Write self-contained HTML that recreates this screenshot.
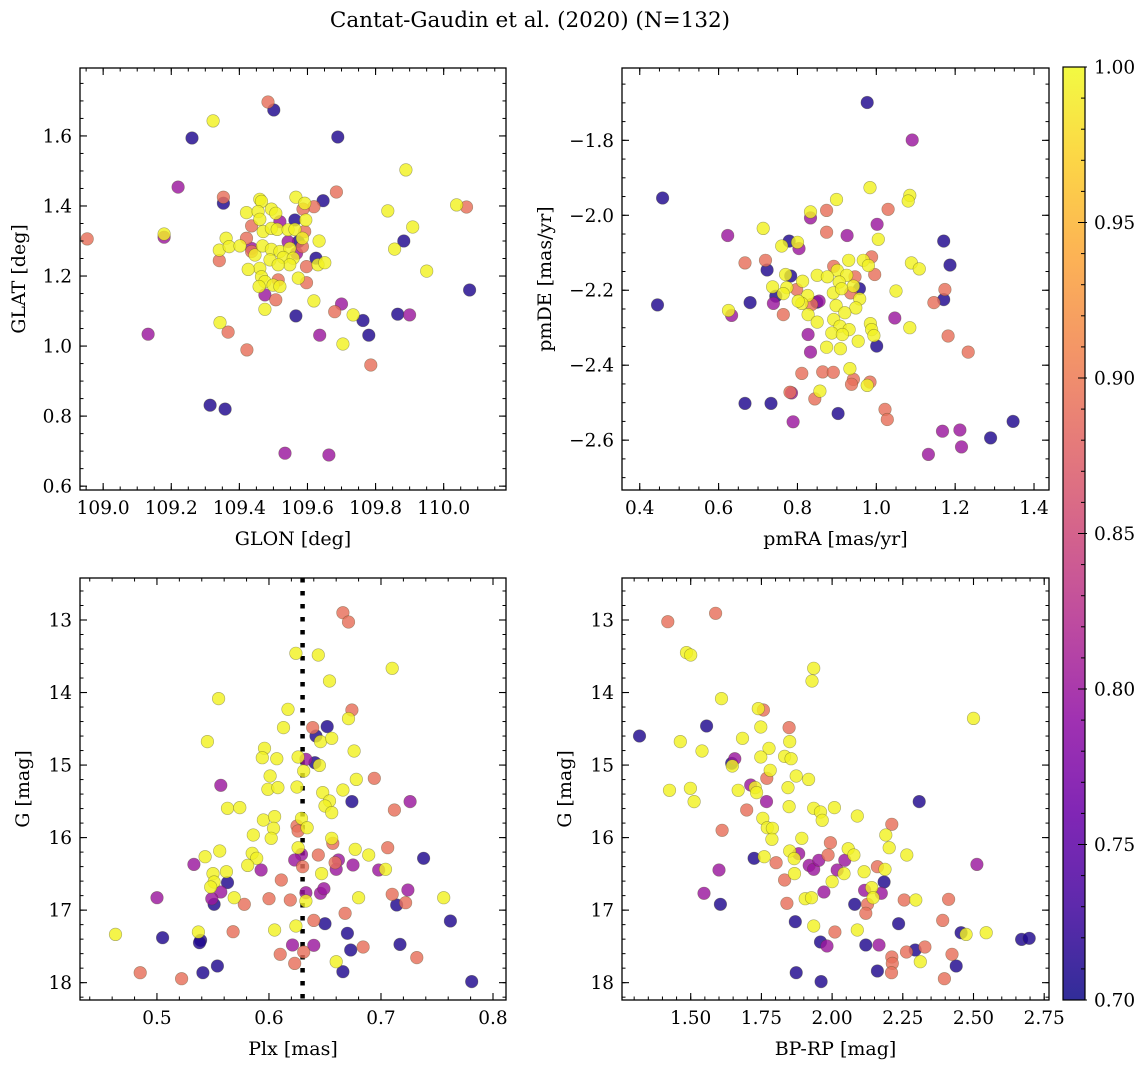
<!DOCTYPE html>
<html><head><meta charset="utf-8"><style>
html,body{margin:0;padding:0;background:#fff;}
svg{display:block;font-family:"DejaVu Serif","Liberation Serif",serif;}
</style></head><body>
<svg id="fig" width="1148" height="1067" viewBox="0 0 1148 1067" xmlns="http://www.w3.org/2000/svg">
<text x="530" y="27" text-anchor="middle" font-size="21.5" fill="#000">Cantat-Gaudin et al. (2020) (N=132)</text>
</svg>
<script>
// ---------- Panel 1: GLON vs GLAT ----------
const glonVals=[109.460,109.465,109.421,109.455,109.460,109.494,109.507,109.566,109.592,109.595,109.470,109.494,109.511,109.543,109.563,109.585,109.634,109.361,109.341,109.370,109.402,109.446,109.468,109.494,109.519,109.548,109.529,109.558,109.490,109.460,109.426,109.465,109.475,109.458,109.499,109.519,109.573,109.631,109.651,109.619,109.475,109.343,109.734,109.548,109.514,
109.179,109.323,109.704,109.836,109.856,109.909,109.889,109.950,110.038,
109.353,109.685,109.619,109.587,109.436,109.592,109.421,109.436,109.585,109.341,109.597,109.597,109.514,109.507,109.680,108.953,109.484,109.367,109.422,109.786,110.067,
109.353,109.646,109.563,109.625,109.566,109.763,109.573,109.261,109.501,109.689,109.314,109.358,109.780,109.865,109.883,110.076,
109.519,109.543,109.436,109.475,109.700,109.568,109.179,109.220,109.132,109.534,109.663,109.636,109.900];
const glatVals=[1.419,1.413,1.381,1.384,1.362,1.391,1.379,1.425,1.408,1.360,1.327,1.336,1.333,1.332,1.333,1.308,1.300,1.308,1.274,1.284,1.286,1.260,1.286,1.276,1.270,1.279,1.253,1.251,1.246,1.222,1.219,1.198,1.184,1.170,1.174,1.170,1.194,1.232,1.238,1.129,1.105,1.067,1.089,1.232,1.232,
1.320,1.643,1.006,1.386,1.277,1.340,1.503,1.214,1.403,
1.425,1.440,1.398,1.391,1.343,1.327,1.308,1.270,1.284,1.244,1.227,1.181,1.189,1.132,1.098,1.306,1.697,1.040,0.989,0.946,1.397,
1.408,1.415,1.360,1.251,1.086,1.073,1.298,1.594,1.674,1.597,0.831,0.820,1.031,1.091,1.300,1.160,
1.355,1.298,1.279,1.146,1.120,1.265,1.311,1.454,1.034,0.694,0.689,1.031,1.089];
const probA=[].concat(Array(54).fill(0.995),Array(21).fill(0.89),Array(16).fill(0.71),Array(13).fill(0.80));

// ---------- Panel 2: pmRA vs pmDE ----------
const pmraVals=[0.977,1.091,0.458,0.984,0.899,1.085,1.081,1.030,0.874,0.833,0.833,1.002,0.713,0.874,0.926,0.623,1.005,1.171,0.779,0.760,0.800,0.804,0.988,0.967,0.980,0.719,0.667,0.930,1.089,1.109,1.187,0.723,0.892,0.996,0.901,0.850,0.876,0.925,0.946,0.770,0.783,0.813,0.906,0.942,0.957,1.050,0.737,0.773,0.764,0.745,0.798,1.174,1.171,1.146,0.891,0.912,0.935,0.958,0.826,0.855,0.849,0.836,0.811,0.802,0.680,0.739,0.445,0.625,0.633,0.764,0.898,0.948,0.827,0.850,0.892,0.920,0.908,0.931,0.985,0.988,0.994,1.047,1.085,1.182,0.827,0.887,0.914,0.954,1.001,0.874,0.909,0.833,1.233,0.933,0.811,0.864,0.891,0.942,0.937,0.984,0.977,0.781,0.785,0.857,0.844,0.667,0.733,0.903,0.789,1.022,1.028,1.168,1.212,1.216,1.132,1.290,1.347];
const pmdeVals=[-1.699,-1.799,-1.954,-1.926,-1.958,-1.947,-1.962,-1.984,-1.987,-1.991,-2.007,-2.024,-2.035,-2.045,-2.054,-2.054,-2.064,-2.069,-2.069,-2.082,-2.072,-2.089,-2.111,-2.120,-2.134,-2.120,-2.127,-2.120,-2.127,-2.143,-2.133,-2.146,-2.136,-2.158,-2.147,-2.160,-2.164,-2.160,-2.164,-2.158,-2.162,-2.176,-2.178,-2.189,-2.196,-2.202,-2.191,-2.193,-2.209,-2.216,-2.198,-2.198,-2.225,-2.233,-2.207,-2.196,-2.207,-2.223,-2.214,-2.229,-2.232,-2.238,-2.235,-2.229,-2.233,-2.235,-2.239,-2.254,-2.267,-2.265,-2.241,-2.247,-2.265,-2.285,-2.278,-2.260,-2.296,-2.305,-2.289,-2.305,-2.321,-2.274,-2.300,-2.322,-2.318,-2.314,-2.318,-2.336,-2.349,-2.352,-2.356,-2.365,-2.365,-2.409,-2.422,-2.418,-2.419,-2.438,-2.451,-2.445,-2.454,-2.472,-2.474,-2.469,-2.490,-2.502,-2.502,-2.529,-2.551,-2.518,-2.545,-2.576,-2.573,-2.618,-2.638,-2.594,-2.550];
const probB=[0.71,0.80,0.71,0.995,0.995,0.995,0.995,0.89,0.89,0.995,0.80,0.80,0.995,0.89,0.80,0.80,0.995,0.71,0.71,0.995,0.995,0.80,0.89,0.995,0.995,0.89,0.89,0.995,0.995,0.995,0.71,0.71,0.89,0.89,0.995,0.995,0.995,0.995,0.89,0.995,0.71,0.995,0.995,0.995,0.71,0.995,0.995,0.995,0.995,0.71,0.89,0.89,0.71,0.89,0.995,0.995,0.89,0.995,0.995,0.80,0.71,0.89,0.995,0.995,0.71,0.80,0.71,0.995,0.80,0.89,0.995,0.995,0.995,0.995,0.995,0.995,0.995,0.995,0.995,0.995,0.995,0.80,0.995,0.89,0.80,0.995,0.995,0.995,0.71,0.995,0.995,0.80,0.89,0.995,0.89,0.89,0.89,0.89,0.89,0.89,0.995,0.89,0.80,0.995,0.89,0.71,0.71,0.71,0.80,0.89,0.89,0.80,0.80,0.80,0.80,0.71,0.71];

// ---------- Panel 3: Plx vs G ----------
const plxVals=[0.666,0.671,0.624,0.644,0.710,0.654,0.555,0.617,0.674,0.671,0.652,0.639,0.642,0.613,0.646,0.656,0.545,0.676,0.596,0.594,0.607,0.626,0.633,0.641,0.645,0.631,0.601,0.694,0.678,0.557,0.599,0.608,0.625,0.666,0.648,0.674,0.726,0.654,0.650,0.656,0.712,0.563,0.574,0.595,0.605,0.604,0.602,0.586,0.629,0.625,0.626,0.634,0.656,0.657,0.677,0.689,0.706,0.738,0.626,0.629,0.623,0.630,0.644,0.662,0.659,0.660,0.675,0.647,0.698,0.704,0.543,0.556,0.533,0.585,0.589,0.581,0.593,0.562,0.550,0.551,0.563,0.548,0.557,0.549,0.551,0.569,0.578,0.611,0.600,0.619,0.633,0.633,0.646,0.649,0.680,0.710,0.724,0.714,0.722,0.756,0.500,0.668,0.762,0.640,0.650,0.605,0.624,0.670,0.568,0.537,0.539,0.538,0.505,0.463,0.621,0.640,0.631,0.673,0.684,0.717,0.732,0.610,0.623,0.660,0.666,0.554,0.541,0.485,0.522,0.781];
const gPlxVals=[12.899,13.027,13.459,13.482,13.666,13.841,14.084,14.231,14.241,14.360,14.470,14.484,14.599,14.484,14.677,14.631,14.677,14.806,14.769,14.898,14.912,14.889,14.921,14.967,15.004,15.082,15.151,15.183,15.197,15.279,15.334,15.311,15.302,15.344,15.380,15.504,15.504,15.495,15.564,15.656,15.619,15.596,15.587,15.757,15.711,15.872,16.010,15.964,15.734,15.840,15.909,15.863,16.010,16.079,16.162,16.240,16.139,16.286,16.139,16.231,16.309,16.401,16.240,16.309,16.346,16.437,16.378,16.497,16.447,16.437,16.263,16.185,16.369,16.217,16.286,16.383,16.447,16.470,16.497,16.612,16.621,16.681,16.750,16.842,16.920,16.828,16.920,16.585,16.842,16.860,16.759,16.874,16.768,16.704,16.828,16.782,16.722,16.929,16.897,16.828,16.828,17.044,17.150,17.141,17.187,17.274,17.219,17.320,17.297,17.302,17.416,17.449,17.380,17.334,17.481,17.485,17.577,17.550,17.508,17.472,17.655,17.609,17.734,17.711,17.849,17.770,17.862,17.862,17.945,17.986];
const probC=[0.89,0.89,0.995,0.995,0.995,0.995,0.995,0.995,0.89,0.995,0.71,0.89,0.71,0.995,0.995,0.995,0.995,0.995,0.995,0.995,0.995,0.995,0.80,0.71,0.995,0.995,0.995,0.89,0.995,0.80,0.995,0.995,0.995,0.995,0.995,0.71,0.80,0.995,0.995,0.995,0.89,0.995,0.995,0.995,0.995,0.995,0.995,0.995,0.995,0.89,0.89,0.995,0.995,0.89,0.995,0.995,0.89,0.71,0.995,0.80,0.80,0.89,0.89,0.80,0.89,0.80,0.80,0.995,0.80,0.995,0.995,0.995,0.80,0.995,0.995,0.995,0.80,0.995,0.995,0.995,0.71,0.995,0.80,0.80,0.71,0.995,0.89,0.89,0.89,0.89,0.80,0.995,0.80,0.80,0.995,0.89,0.80,0.71,0.89,0.995,0.80,0.89,0.71,0.89,0.71,0.995,0.995,0.71,0.89,0.995,0.71,0.71,0.71,0.995,0.80,0.80,0.89,0.71,0.89,0.71,0.89,0.89,0.89,0.995,0.71,0.71,0.71,0.89,0.89,0.71];

// ---------- Panel 4: BP-RP vs G ----------
const bprpVals=[1.419,1.588,1.485,1.500,1.935,1.929,1.609,1.739,1.757,2.500,1.556,1.748,1.848,1.319,1.463,1.683,1.850,1.540,1.777,1.748,1.832,1.855,1.656,1.645,1.647,1.781,1.769,1.873,1.917,1.425,1.499,1.512,1.668,1.712,1.728,1.733,1.844,1.768,1.848,1.698,1.935,1.959,1.965,2.008,2.089,1.611,1.755,1.771,1.789,1.787,1.893,1.994,2.211,2.190,2.202,2.264,1.724,1.760,1.802,1.850,1.866,1.882,1.867,1.919,1.935,1.953,1.986,2.057,2.077,2.045,2.018,2.042,2.000,1.832,1.600,1.547,1.605,2.113,2.160,2.187,2.184,2.115,2.174,2.140,2.145,2.125,2.119,2.080,1.905,1.927,1.840,1.971,2.255,2.296,2.412,2.512,2.308,1.870,1.935,2.010,2.089,2.235,2.391,2.456,2.474,2.545,2.670,2.697,1.959,1.982,2.119,2.166,2.211,2.213,2.263,2.294,2.328,2.424,2.312,2.439,2.160,2.210,1.873,1.961,2.397];
const gColVals=[13.023,12.908,13.450,13.482,13.666,13.841,14.084,14.222,14.241,14.356,14.461,14.475,14.484,14.599,14.677,14.631,14.677,14.806,14.769,14.889,14.880,14.912,14.912,14.976,15.013,15.072,15.183,15.151,15.197,15.348,15.320,15.504,15.348,15.275,15.311,15.380,15.311,15.504,15.573,15.619,15.596,15.647,15.762,15.587,15.702,15.900,15.734,15.863,15.872,16.024,16.010,16.070,15.817,15.964,16.139,16.240,16.286,16.263,16.346,16.185,16.290,16.222,16.497,16.383,16.437,16.313,16.240,16.153,16.240,16.313,16.447,16.497,16.607,16.585,16.447,16.768,16.920,16.470,16.401,16.437,16.612,16.727,16.768,16.690,16.828,16.920,17.044,16.920,16.842,16.828,16.906,16.750,16.860,16.860,16.851,16.369,15.504,17.159,17.219,17.302,17.274,17.187,17.141,17.311,17.334,17.311,17.403,17.389,17.439,17.494,17.481,17.481,17.646,17.734,17.577,17.550,17.508,17.609,17.711,17.770,17.839,17.862,17.862,17.986,17.945];
const probD=[0.89,0.89,0.995,0.995,0.995,0.995,0.995,0.995,0.89,0.995,0.71,0.995,0.89,0.71,0.995,0.995,0.995,0.995,0.995,0.995,0.995,0.995,0.80,0.71,0.995,0.995,0.89,0.995,0.995,0.995,0.995,0.995,0.995,0.80,0.995,0.995,0.995,0.80,0.995,0.89,0.995,0.995,0.995,0.995,0.995,0.89,0.995,0.995,0.995,0.995,0.995,0.89,0.89,0.995,0.995,0.995,0.71,0.995,0.89,0.995,0.995,0.80,0.995,0.80,0.80,0.80,0.89,0.995,0.995,0.80,0.80,0.995,0.995,0.89,0.80,0.80,0.71,0.995,0.89,0.995,0.71,0.80,0.80,0.995,0.995,0.89,0.89,0.71,0.995,0.995,0.89,0.80,0.89,0.995,0.89,0.80,0.71,0.71,0.995,0.89,0.995,0.71,0.89,0.71,0.995,0.995,0.71,0.71,0.71,0.80,0.71,0.80,0.89,0.89,0.89,0.71,0.89,0.89,0.995,0.71,0.71,0.89,0.71,0.71,0.89];

const plxRef=[0.630];
const cbTicks=[0.70,0.75,0.80,0.85,0.90,0.95,1.00];

const NS="http://www.w3.org/2000/svg";
const svg=document.getElementById('fig');
function mk(tag,attrs,parent){const e=document.createElementNS(NS,tag);for(const k in attrs)e.setAttribute(k,attrs[k]);(parent||svg).appendChild(e);return e;}

const plasmaStops=["#0d0887","#41049d","#6a00a8","#8f0da4","#b12a90","#cc4778","#e16462","#f2844b","#fca636","#fcce25","#f0f921"];
function hex(h){return [parseInt(h.slice(1,3),16),parseInt(h.slice(3,5),16),parseInt(h.slice(5,7),16)];}
function plasma(t){t=Math.max(0,Math.min(1,t));const f=t*10,i=Math.min(9,Math.floor(f)),u=f-i;const a=hex(plasmaStops[i]),b=hex(plasmaStops[i+1]);return 'rgb('+a.map((v,k)=>Math.round(v+(b[k]-v)*u)).join(',')+')';}
const pMin=0.70,pMax=1.00;
const TICK_FS=18.5, LABEL_FS=19;

function fmt(v,d){const s=Math.abs(v).toFixed(d);return (v<-1e-9?'\u2212':'')+s;}

function panel(c){
  const g=mk('g',{});
  
  
  const sx=v=>c.x0+(v-c.xr[0])/(c.xr[1]-c.xr[0])*(c.x1-c.x0);
  const sy=c.invert?(v=>c.y0+(v-c.yr[0])/(c.yr[1]-c.yr[0])*(c.y1-c.y0)):(v=>c.y1-(v-c.yr[0])/(c.yr[1]-c.yr[0])*(c.y1-c.y0));
  const clip='clip-'+c.name;
  const cp=mk('clipPath',{id:clip},g);mk('rect',{x:c.x0,y:c.y0,width:c.x1-c.x0,height:c.y1-c.y0},cp);
  const pts=mk('g',{'clip-path':'url(#'+clip+')'},g);
  
  
  if(c.vline){
    const l=mk('line',{x1:sx(c.vline),x2:sx(c.vline),y1:c.y0,y2:c.y1,stroke:'#000','stroke-width':4.5,'stroke-dasharray':'4.5,8.5'},pts);
    
    
  }
  const idx=c.xs.map((_,i)=>i).sort((a,b)=>c.ps[a]-c.ps[b]);
  idx.forEach(i=>{
    const t=(c.ps[i]-pMin)/(pMax-pMin);
    const ci=mk('circle',{cx:sx(c.xs[i]).toFixed(1),cy:sy(c.ys[i]).toFixed(1),r:6.3,fill:plasma(t),'fill-opacity':0.82,stroke:'rgba(70,70,30,0.45)','stroke-width':0.6},pts);
    
    
  });
  mk('rect',{x:c.x0,y:c.y0,width:c.x1-c.x0,height:c.y1-c.y0,fill:'none',stroke:'#000','stroke-width':1.3},g);
  function ticks(r,step){const out=[];let v=Math.ceil(r[0]/step-1e-9)*step;for(;v<=r[1]+1e-9;v+=step)out.push(+v.toFixed(6));return out;}
  ticks(c.xr,c.xminor).forEach(v=>{const x=sx(v);mk('line',{x1:x,x2:x,y1:c.y1,y2:c.y1-3.5,stroke:'#000','stroke-width':1},g);mk('line',{x1:x,x2:x,y1:c.y0,y2:c.y0+3.5,stroke:'#000','stroke-width':1},g);});
  ticks(c.yr,c.yminor).forEach(v=>{const y=sy(v);mk('line',{x1:c.x0,x2:c.x0+3.5,y1:y,y2:y,stroke:'#000','stroke-width':1},g);mk('line',{x1:c.x1,x2:c.x1-3.5,y1:y,y2:y,stroke:'#000','stroke-width':1},g);});
  ticks(c.xr,c.xmajor).forEach(v=>{const x=sx(v);mk('line',{x1:x,x2:x,y1:c.y1,y2:c.y1-7,stroke:'#000','stroke-width':1.1},g);mk('line',{x1:x,x2:x,y1:c.y0,y2:c.y0+7,stroke:'#000','stroke-width':1.1},g);
    const t=mk('text',{x:x,y:c.y1+24,'text-anchor':'middle','font-size':TICK_FS},g);t.textContent=fmt(v,c.xd);
    
    });
  ticks(c.yr,c.ymajor).forEach(v=>{const y=sy(v);mk('line',{x1:c.x0,x2:c.x0+7,y1:y,y2:y,stroke:'#000','stroke-width':1.1},g);mk('line',{x1:c.x1,x2:c.x1-7,y1:y,y2:y,stroke:'#000','stroke-width':1.1},g);
    const t=mk('text',{x:c.x0-8,y:y+6.5,'text-anchor':'end','font-size':TICK_FS},g);t.textContent=fmt(v,c.yd);
    
    });
  const xl=mk('text',{x:(c.x0+c.x1)/2,y:c.y1+55,'text-anchor':'middle','font-size':LABEL_FS},g);xl.textContent=c.xlabel;
  
  
  const yl=mk('text',{x:c.ylx,y:(c.y0+c.y1)/2,'text-anchor':'middle','font-size':LABEL_FS,transform:'rotate(-90 '+c.ylx+' '+((c.y0+c.y1)/2)+')'},g);yl.textContent=c.ylabel;
  
  
}

panel({name:'glon-glat-panel',x0:80,x1:506,y0:68,y1:490,xr:[108.932,110.183],yr:[0.589,1.794],xs:glonVals,ys:glatVals,ps:probA,xmajor:0.2,xminor:0.05,ymajor:0.2,yminor:0.05,xd:1,yd:1,xlabel:'GLON [deg]',ylabel:'GLAT [deg]',ylx:25});
panel({name:'proper-motion-panel',x0:622,x1:1049,y0:68,y1:490,xr:[0.355,1.438],yr:[-2.733,-1.607],xs:pmraVals,ys:pmdeVals,ps:probB,xmajor:0.2,xminor:0.05,ymajor:0.2,yminor:0.05,xd:1,yd:1,xlabel:'pmRA [mas/yr]',ylabel:'pmDE [mas/yr]',ylx:551});
panel({name:'parallax-mag-panel',x0:80,x1:506,y0:578,y1:1000,xr:[0.4313,0.8116],yr:[12.421,18.239],invert:true,xs:plxVals,ys:gPlxVals,ps:probC,xmajor:0.1,xminor:0.02,ymajor:1,yminor:0.2,xd:1,yd:0,xlabel:'Plx [mas]',ylabel:'G [mag]',ylx:29,vline:plxRef[0]});
panel({name:'cmd-panel',x0:622,x1:1049,y0:578,y1:1000,xr:[1.257,2.767],yr:[12.421,18.239],invert:true,xs:bprpVals,ys:gColVals,ps:probD,xmajor:0.25,xminor:0.05,ymajor:1,yminor:0.2,xd:2,yd:0,xlabel:'BP-RP [mag]',ylabel:'G [mag]',ylx:571});

// ---------- Colorbar ----------
(function(){
  const cx0=1063,cx1=1085,cy0=67,cy1=1000;
  const g=mk('g',{});
  
  
  const defs=mk('defs',{},g);
  const lg=mk('linearGradient',{id:'cbgrad',x1:0,y1:1,x2:0,y2:0},defs);
  for(let i=0;i<=20;i++){mk('stop',{offset:(i/20),'stop-color':plasma(i/20),'stop-opacity':0.85},lg);}
  mk('rect',{x:cx0,y:cy0,width:cx1-cx0,height:cy1-cy0,fill:'url(#cbgrad)',stroke:'#000','stroke-width':1.2},g);
  const sy=v=>cy1-(v-pMin)/(pMax-pMin)*(cy1-cy0);
  for(let k=0;k<=30;k++){const v=pMin+k*0.01;const y=sy(v);const major=k%5===0;
    mk('line',{x1:cx1-(major?7:4),x2:cx1+(major?2:0),y1:y,y2:y,stroke:'#000','stroke-width':1},g);}
  cbTicks.forEach(v=>{const t=mk('text',{x:1094,y:sy(v)+6.5,'font-size':TICK_FS},g);t.textContent=v.toFixed(2);
    
    });
})();
</script>
</body></html>
